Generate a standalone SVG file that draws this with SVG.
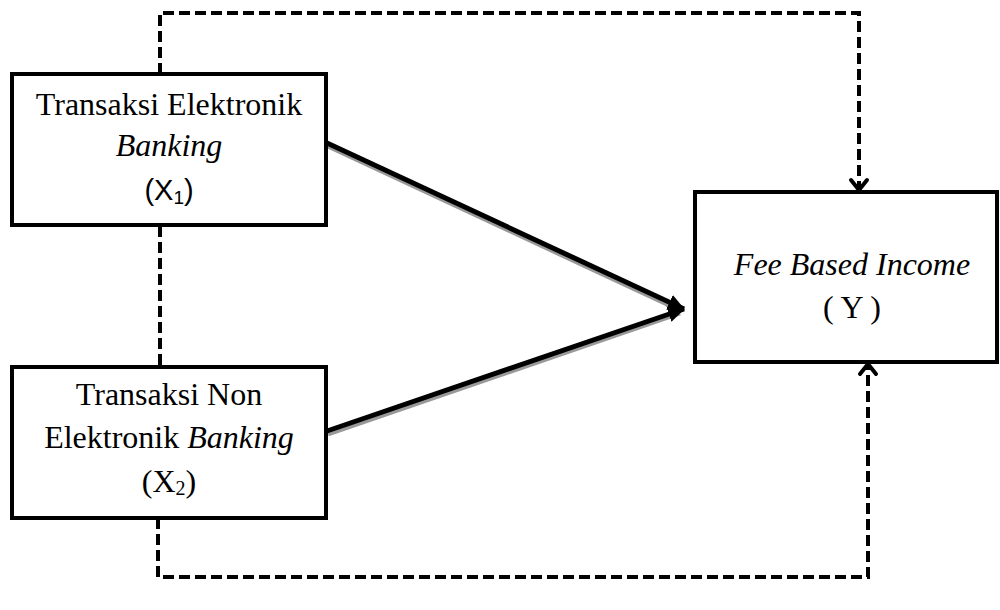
<svg xmlns="http://www.w3.org/2000/svg" width="1000" height="610" viewBox="0 0 1000 610">
  <style>
    .box { fill: #fff; stroke: #000; stroke-width: 4; }
    .t { font-family: "Liberation Serif", "Times New Roman", serif; font-size: 32px; fill: #000; text-anchor: middle; }
    .i { font-style: italic; }
    .s { font-family: "Liberation Sans", Arial, sans-serif; font-size: 29px; fill: #000; text-anchor: middle; }
    .dash { fill: none; stroke: #000; stroke-width: 4; stroke-dasharray: 11 5; }
    .chev { fill: none; stroke: #000; stroke-width: 4; stroke-linecap: round; stroke-linejoin: miter; }
    .main { fill: none; stroke: #000; stroke-width: 5; }
    .shadow { fill: none; stroke: #999; stroke-width: 5; }
  </style>
  <defs>
    <marker id="ah" markerUnits="userSpaceOnUse" markerWidth="20" markerHeight="20" refX="16" refY="10" orient="auto">
      <path d="M0,2 L17,10 L0,18 z" fill="#000"/>
    </marker>
  </defs>
  <g id="connectors">
    <path class="dash" d="M160,74 V13 H859 V190"/>
    <path class="chev" d="M851,180 L859,190 L867,180"/>
    <path class="dash" d="M160,226 V367"/>
    <path class="dash" d="M158,518 V577 H868 V364"/>
    <path class="chev" d="M860,374 L868,364 L876,374"/>
    <path class="shadow" d="M328,146 L680,310"/>
    <path class="shadow" d="M328,434 L680,313"/>
    <path class="main" d="M327,143 L684,309" marker-end="url(#ah)"/>
    <path class="main" d="M327,431 L684,309" marker-end="url(#ah)"/>
  </g>
  <g id="x1">
    <rect class="box" x="12" y="74" width="314" height="151"/>
    <text class="t" x="169" y="115">Transaksi Elektronik</text>
    <text class="t i" x="169" y="156">Banking</text>
    <text class="s" x="169" y="200">(X<tspan font-size="19" dy="4">1</tspan><tspan dy="-4">)</tspan></text>
  </g>
  <g id="x2">
    <rect class="box" x="12" y="367" width="314" height="151"/>
    <text class="t" x="169" y="405">Transaksi Non</text>
    <text class="t" x="169" y="448">Elektronik <tspan class="i">Banking</tspan></text>
    <text class="t" x="169" y="492">(X<tspan font-size="20" dy="3">2</tspan><tspan dy="-3">)</tspan></text>
  </g>
  <g id="y">
    <rect class="box" x="695" y="192" width="302" height="170"/>
    <text class="t i" x="852" y="275">Fee Based Income</text>
    <text class="t" x="852" y="318">( Y )</text>
  </g>
</svg>
